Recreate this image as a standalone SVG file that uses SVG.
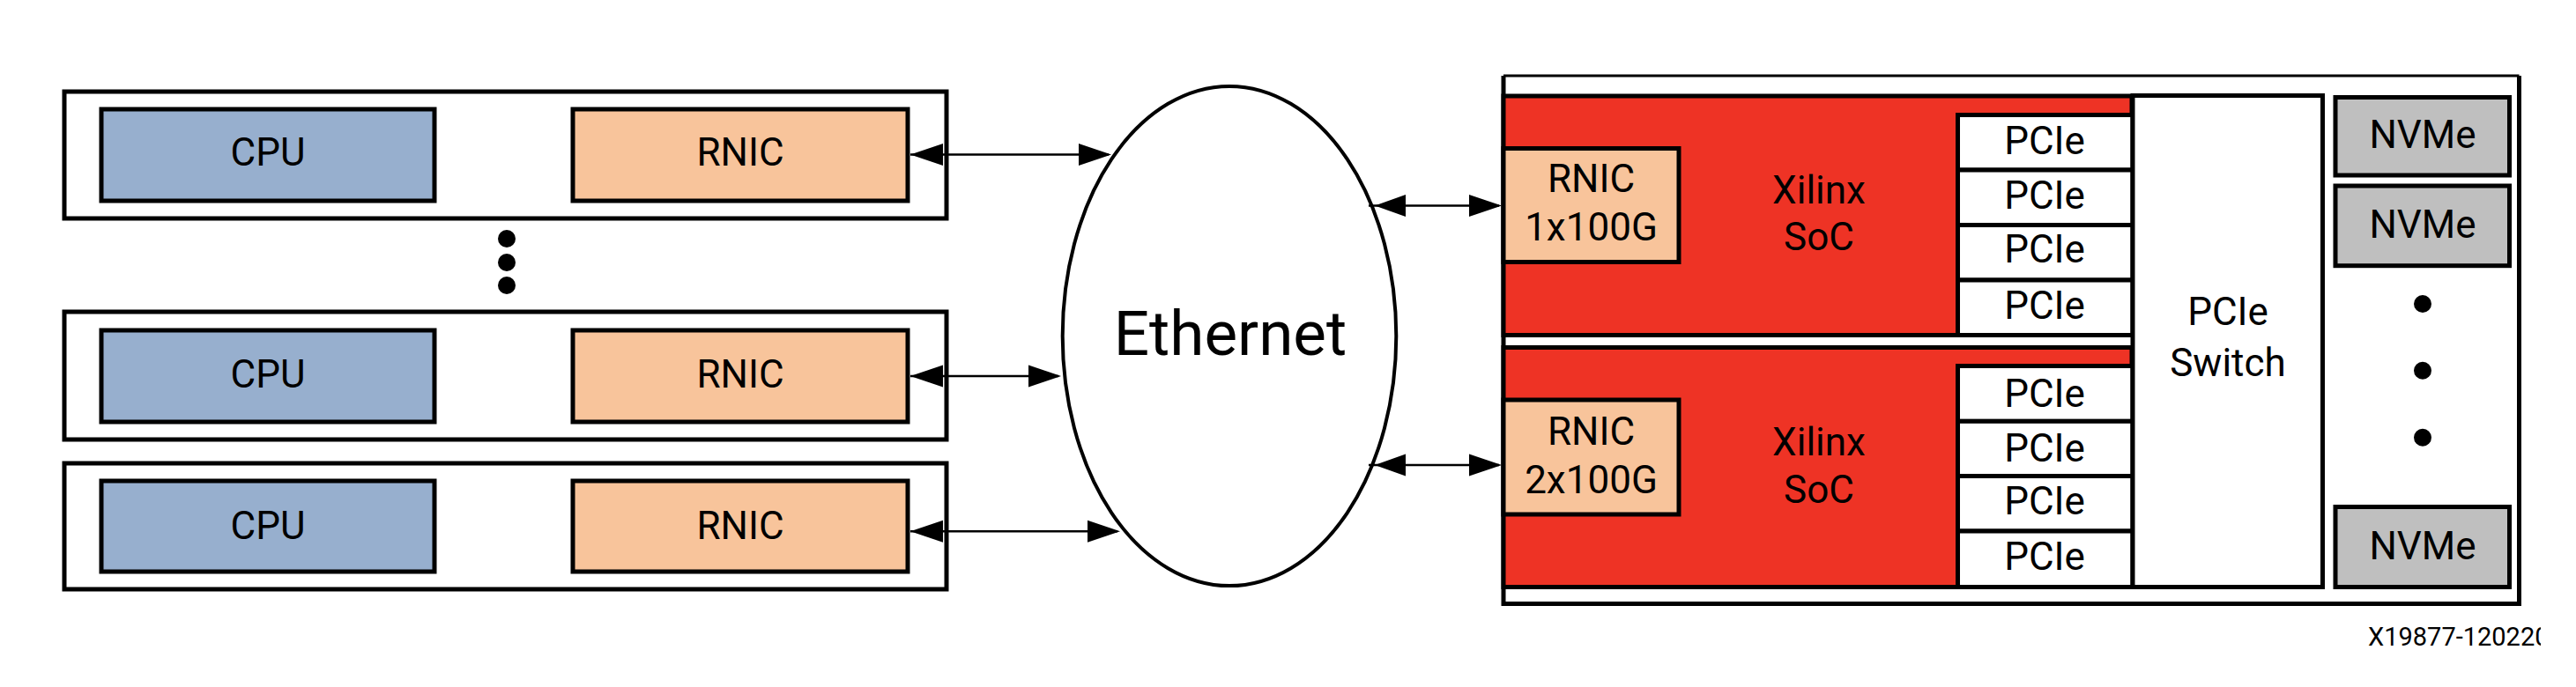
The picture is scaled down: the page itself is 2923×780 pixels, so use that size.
<svg xmlns="http://www.w3.org/2000/svg" width="2923" height="780" viewBox="0 0 2923 780">
  <defs>
    <style>
      .t{font-family:Roboto,"Liberation Sans",Arial,sans-serif;fill:#000;text-anchor:middle}
      .lb{font-size:44px}
      .box{stroke:#000;stroke-width:5;stroke-linejoin:miter}
      .host{fill:#fff}
      .cpu{fill:#97AFCE}
      .rnic{fill:#F8C49B}
      .soc{fill:#EE3325}
      .pcie{fill:#fff}
      .nvme{fill:#BFBFBF}
      .ln{stroke:#000;stroke-width:2.5;fill:none}
      .ah{fill:#000}
      .dot{fill:#000}
    </style>
    <clipPath id="clipLabel"><rect x="2600" y="690" width="283" height="90"/></clipPath>
  </defs>
  <rect x="0" y="0" width="2923" height="780" fill="#fff"/>

  <!-- Host 1 -->
  <g id="host1">
    <rect class="box host" x="73" y="104" width="1001" height="144"/>
    <g id="cpu1"><rect class="box cpu" x="115" y="124" width="378" height="104"/><text class="t lb" x="304" y="188">CPU</text></g>
    <g id="rnic1"><rect class="box rnic" x="650" y="124" width="380" height="104"/><text class="t lb" x="840" y="188">RNIC</text></g>
  </g>
  <g id="ellipsis-hosts">
    <circle class="dot" cx="575" cy="271" r="10"/>
    <circle class="dot" cx="575" cy="298" r="10"/>
    <circle class="dot" cx="575" cy="324" r="10"/>
  </g>
  <!-- Host 2 -->
  <g id="host2">
    <rect class="box host" x="73" y="354" width="1001" height="145"/>
    <g id="cpu2"><rect class="box cpu" x="115" y="375" width="378" height="104"/><text class="t lb" x="304" y="440">CPU</text></g>
    <g id="rnic2"><rect class="box rnic" x="650" y="375" width="380" height="104"/><text class="t lb" x="840" y="440">RNIC</text></g>
  </g>
  <!-- Host 3 -->
  <g id="host3">
    <rect class="box host" x="73" y="526" width="1001" height="143"/>
    <g id="cpu3"><rect class="box cpu" x="115" y="546" width="378" height="103"/><text class="t lb" x="304" y="612">CPU</text></g>
    <g id="rnic3"><rect class="box rnic" x="650" y="546" width="380" height="103"/><text class="t lb" x="840" y="612">RNIC</text></g>
  </g>

  <!-- Ethernet -->
  <g id="ethernet">
    <ellipse cx="1395" cy="381.5" rx="189.3" ry="283.6" fill="#fff" stroke="#000" stroke-width="4"/>
    <text class="t" x="1396" y="403" font-size="71">Ethernet</text>
  </g>

  <!-- Storage server -->
  <g id="server">
    <path d="M1706,86 H2858.5" stroke="#000" stroke-width="3" fill="none"/>
    <path d="M1706,86 V685.5 H2858.5 V86" stroke="#000" stroke-width="5" fill="none"/>
  </g>

  <g id="soc1">
    <rect class="box soc" x="1706" y="109" width="713" height="271.5"/>
    <g id="rnic-soc1"><rect class="box rnic" x="1706" y="168.5" width="199" height="129"/>
      <text class="t lb" x="1805.5" y="218">RNIC</text><text class="t lb" x="1805.5" y="273">1x100G</text></g>
    <text class="t lb" x="2064" y="230.7">Xilinx</text>
    <text class="t lb" x="2064" y="284">SoC</text>
    <g id="pcie1a"><rect class="box pcie" x="2221.5" y="130.5" width="198.5" height="62.5"/><text class="t lb" x="2320" y="175">PCIe</text></g>
    <g id="pcie1b"><rect class="box pcie" x="2221.5" y="193" width="198.5" height="62.5"/><text class="t lb" x="2320" y="236.7">PCIe</text></g>
    <g id="pcie1c"><rect class="box pcie" x="2221.5" y="255.5" width="198.5" height="62.5"/><text class="t lb" x="2320" y="298.3">PCIe</text></g>
    <g id="pcie1d"><rect class="box pcie" x="2221.5" y="318" width="198.5" height="62.5"/><text class="t lb" x="2320" y="361.7">PCIe</text></g>
  </g>

  <g id="soc2">
    <rect class="box soc" x="1706" y="394.5" width="713" height="272"/>
    <g id="rnic-soc2"><rect class="box rnic" x="1706" y="454" width="199" height="130"/>
      <text class="t lb" x="1805.5" y="505">RNIC</text><text class="t lb" x="1805.5" y="560">2x100G</text></g>
    <text class="t lb" x="2064" y="516.7">Xilinx</text>
    <text class="t lb" x="2064" y="570.7">SoC</text>
    <g id="pcie2a"><rect class="box pcie" x="2221.5" y="415.5" width="198.5" height="62.8"/><text class="t lb" x="2320" y="461.7">PCIe</text></g>
    <g id="pcie2b"><rect class="box pcie" x="2221.5" y="478.3" width="198.5" height="62.2"/><text class="t lb" x="2320" y="524">PCIe</text></g>
    <g id="pcie2c"><rect class="box pcie" x="2221.5" y="540.5" width="198.5" height="62.5"/><text class="t lb" x="2320" y="584">PCIe</text></g>
    <g id="pcie2d"><rect class="box pcie" x="2221.5" y="603" width="198.5" height="63.5"/><text class="t lb" x="2320" y="646.7">PCIe</text></g>
  </g>

  <g id="pcie-switch">
    <rect class="box" fill="#fff" x="2420" y="108.5" width="215.5" height="558"/>
    <text class="t lb" x="2528" y="369">PCIe</text>
    <text class="t lb" x="2528" y="427">Switch</text>
  </g>

  <g id="nvme1"><rect class="box nvme" x="2650" y="110.5" width="197.5" height="88.5"/><text class="t lb" x="2749" y="168.3">NVMe</text></g>
  <g id="nvme2"><rect class="box nvme" x="2650" y="211" width="197.5" height="90.7"/><text class="t lb" x="2749" y="270">NVMe</text></g>
  <g id="ellipsis-nvme">
    <circle class="dot" cx="2749" cy="345" r="10"/>
    <circle class="dot" cx="2749" cy="420.7" r="10"/>
    <circle class="dot" cx="2749" cy="496.7" r="10"/>
  </g>
  <g id="nvme3"><rect class="box nvme" x="2650" y="575.5" width="197.5" height="91"/><text class="t lb" x="2749" y="635">NVMe</text></g>

  <!-- Connectors -->
  <g id="connectors">
    <line class="ln" x1="1033" y1="175.5" x2="1258" y2="175.5"/>
    <polygon class="ah" points="1033,175.5 1070,163 1070,188"/>
    <polygon class="ah" points="1261,175.5 1224,163 1224,188"/>

    <line class="ln" x1="1033" y1="427" x2="1201" y2="427"/>
    <polygon class="ah" points="1033,427 1070,414.5 1070,439.5"/>
    <polygon class="ah" points="1204,427 1167,414.5 1167,439.5"/>

    <line class="ln" x1="1033" y1="603.3" x2="1268" y2="603.3"/>
    <polygon class="ah" points="1033,603.3 1070,590.8 1070,615.8"/>
    <polygon class="ah" points="1271,603.3 1234,590.8 1234,615.8"/>

    <line class="ln" x1="1553" y1="233.5" x2="1701" y2="233.5"/>
    <polygon class="ah" points="1560,233.5 1595,221 1595,246"/>
    <polygon class="ah" points="1704,233.5 1667,221 1667,246"/>

    <line class="ln" x1="1553" y1="528" x2="1701" y2="528"/>
    <polygon class="ah" points="1560,528 1595,515.5 1595,540.5"/>
    <polygon class="ah" points="1704,528 1667,515.5 1667,540.5"/>
  </g>

  <text clip-path="url(#clipLabel)" x="2687" y="733" font-family="Roboto,'Liberation Sans',Arial,sans-serif" font-size="29" fill="#000">X19877-120220</text>
</svg>
